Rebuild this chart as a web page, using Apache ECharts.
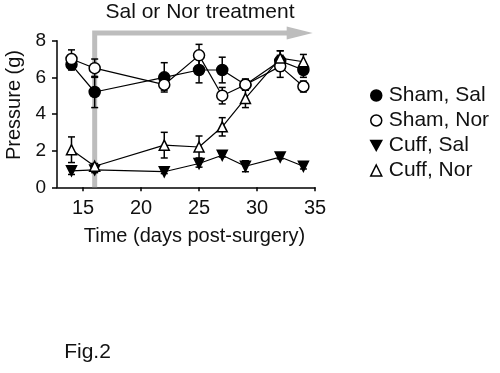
<!DOCTYPE html>
<html>
<head>
<meta charset="utf-8">
<style>
html,body{margin:0;padding:0;background:#fff;}
#c{width:500px;height:373px;}
</style>
<script src="https://cdn.jsdelivr.net/npm/echarts@6/dist/echarts.min.js"></script>
</head>
<body>
<div id="c"></div>
<script>
// ---- data ----
var days = [14, 16, 22, 25, 27, 29, 32, 34];
var shamSal = [6.7, 5.2, 6.0, 6.4, 6.4, 5.6, 6.9, 6.4];
var shamSalErr = [0.3, 0.85, 0.8, 0.7, 0.7, 0.3, 0.55, 0.4];
var shamNor = [7.0, 6.5, 5.6, 7.2, 5.0, 5.6, 6.6, 5.5];
var shamNorErr = [0.5, 0.5, 0.3, 0.6, 0.45, 0.3, 0.6, 0.3];
var cuffSal = [0.9, 0.95, 0.85, 1.3, 1.75, 1.15, 1.65, 1.15];
var cuffSalErr = [0.2, 0.15, 0.1, 0.2, 0.1, 0.3, 0.1, 0.15];
var cuffNor = [2.05, 1.15, 2.3, 2.2, 3.3, 4.85, 7.05, 6.85];
var cuffNorErr = [0.7, 0.15, 0.7, 0.6, 0.5, 0.5, 0.4, 0.4];
var xTicks = [15, 20, 25, 30, 35];
var seriesNames = ['Sham, Sal', 'Sham, Nor', 'Cuff, Sal', 'Cuff, Nor'];
var treatmentStart = 16;
var treatmentEnd = 34.8;
var treatmentLevel = 8.42;

// ---- build ----
var FONT = '"Liberation Sans", Arial, sans-serif';
var values = [shamSal, shamNor, cuffSal, cuffNor];
var errs = [shamSalErr, shamNorErr, cuffSalErr, cuffNorErr];
var downTri = 'path://M0,0 L10,0 L5,9 Z';
var symbols = ['circle', 'circle', downTri, 'triangle'];
var fills = ['#000', '#fff', '#000', '#fff'];
var sizes = [11, 11, 10, 10];

function pts(v) { return days.map(function (d, i) { return [d, v[i]]; }); }
function errPts(v, e) { return days.map(function (d, i) { return [d, v[i] - e[i], v[i] + e[i]]; }); }

var series = [];
// treatment arrow
series.push({
  type: 'custom', z: 1, silent: true, clip: false,
  data: [[treatmentStart, 0, treatmentEnd, treatmentLevel]],
  renderItem: function (params, api) {
    var p0 = api.coord([api.value(0), 0]);
    var p1 = api.coord([api.value(0), api.value(3)]);
    var tip = api.coord([api.value(2), api.value(3)]);
    var head = 26, hh = 6.5;
    return {
      type: 'group', children: [
        { type: 'polyline', shape: { points: [p0, p1, [tip[0] - head + 1, tip[1]]] },
          style: { stroke: '#bdbdbd', lineWidth: 5, fill: null, lineJoin: 'miter', lineCap: 'butt' } },
        { type: 'polygon', shape: { points: [[tip[0] - head, tip[1] - hh], tip, [tip[0] - head, tip[1] + hh]] },
          style: { fill: '#bdbdbd' } }
      ]
    };
  }
});
// connecting lines
values.forEach(function (v, k) {
  series.push({ type: 'line', name: '_line' + k, data: pts(v), symbol: 'none', z: 2, silent: true,
    lineStyle: { color: '#000', width: 1.2 } });
});
// error bars
values.forEach(function (v, k) {
  series.push({
    type: 'custom', name: '_err' + k, z: 3, silent: true, data: errPts(v, errs[k]),
    renderItem: function (params, api) {
      var lo = api.coord([api.value(0), api.value(1)]);
      var hi = api.coord([api.value(0), api.value(2)]);
      var w = 3.5;
      var st = { stroke: '#000', lineWidth: 1.5 };
      return { type: 'group', children: [
        { type: 'line', shape: { x1: lo[0], y1: lo[1], x2: hi[0], y2: hi[1] }, style: st },
        { type: 'line', shape: { x1: lo[0] - w, y1: lo[1], x2: lo[0] + w, y2: lo[1] }, style: st },
        { type: 'line', shape: { x1: hi[0] - w, y1: hi[1], x2: hi[0] + w, y2: hi[1] }, style: st }
      ] };
    }
  });
});
// markers
values.forEach(function (v, k) {
  series.push({ type: 'scatter', name: seriesNames[k], data: pts(v), z: 4,
    symbol: symbols[k], symbolSize: sizes[k],
    itemStyle: { color: fills[k], borderColor: '#000', borderWidth: 1.5, opacity: 1 } });
});

var chart = echarts.init(document.getElementById('c'), null, { renderer: 'canvas' });
chart.setOption({
  animation: false,
  backgroundColor: '#fff',
  textStyle: { fontFamily: FONT, color: '#000' },
  grid: { left: 57, right: 185, top: 40.7, bottom: 185.7 },
  xAxis: {
    type: 'value', min: 12.75, max: 35,
    axisLine: { lineStyle: { color: '#000', width: 1.5 } },
    axisTick: { customValues: xTicks, length: 4, lineStyle: { color: '#000', width: 1.5 } },
    axisLabel: { customValues: xTicks, margin: 11, fontSize: 20, color: '#111', fontFamily: FONT },
    splitLine: { show: false }
  },
  yAxis: {
    type: 'value', min: 0, max: 8, interval: 2,
    axisLine: { show: true, lineStyle: { color: '#000', width: 1.5 } },
    axisTick: { show: true, length: 5, lineStyle: { color: '#000', width: 1.5 } },
    axisLabel: { margin: 11, fontSize: 19, color: '#111', fontFamily: FONT },
    splitLine: { show: false }
  },
  legend: {
    orient: 'vertical', left: 365, top: 80,
    itemWidth: 11, itemHeight: 11, itemGap: 4,
    textStyle: { fontSize: 21, color: '#111', fontFamily: FONT, padding: [0, 0, 0, 2] },
    data: seriesNames.map(function (n, k) {
      return { name: n, icon: symbols[k],
        itemStyle: { color: fills[k], borderColor: '#000', borderWidth: 1.5 } };
    })
  },
  graphic: [
    { type: 'text', x: 200, y: 12.5,
      style: { text: 'Sal or Nor treatment', font: '21px ' + FONT, fill: '#111', align: 'center', verticalAlign: 'middle' } },
    { type: 'text', x: 194.5, y: 236,
      style: { text: 'Time (days post-surgery)', font: '20px ' + FONT, fill: '#111', align: 'center', verticalAlign: 'middle' } },
    { type: 'text', x: 14, y: 105, rotation: Math.PI / 2,
      style: { text: 'Pressure (g)', font: '20px ' + FONT, fill: '#111', align: 'center', verticalAlign: 'middle' } },
    { type: 'text', x: 87.5, y: 352,
      style: { text: 'Fig.2', font: '21px ' + FONT, fill: '#111', align: 'center', verticalAlign: 'middle' } }
  ],
  series: series
});
</script>
</body>
</html>
